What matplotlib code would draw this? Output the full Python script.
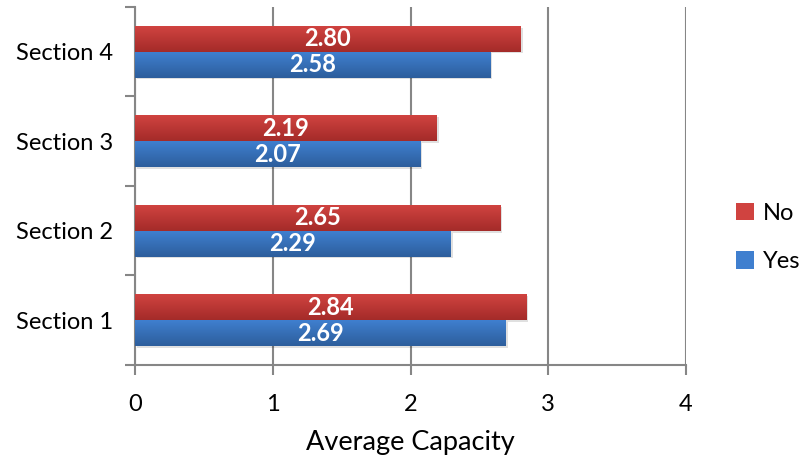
import matplotlib.pyplot as plt
import numpy as np
from matplotlib.colors import LinearSegmentedColormap

# Average capacity per section, split by answer
sections = ['Section 1', 'Section 2', 'Section 3', 'Section 4']
no_values = [2.84, 2.65, 2.19, 2.80]
yes_values = [2.69, 2.29, 2.07, 2.58]
x_ticks = [0, 1, 2, 3, 4]

plt.rcParams['font.family'] = ['Lato', 'DejaVu Sans']

fig = plt.figure(figsize=(7.99, 4.63), dpi=100)
ax = fig.add_axes([0.169, 0.2117, 0.6896, 0.7733])

bar_h = 0.29
y = np.arange(len(sections))
grid_color = '#868686'


def gradient_bars(ax, ys, values, top, bottom, label):
    """Draw bars with a vertical top-to-bottom shading and a soft shadow."""
    cmap = LinearSegmentedColormap.from_list(label, [bottom, top])
    grad = np.linspace(0, 1, 64).reshape(-1, 1)
    bars = ax.barh(ys, values, height=bar_h, color=top, label=label, zorder=3)
    for rect in bars:
        x0, y0 = rect.get_x(), rect.get_y()
        w, h = rect.get_width(), rect.get_height()
        # faint drop shadow
        ax.add_patch(plt.Rectangle((x0 + 0.015, y0 - 0.02), w, h, color='#000000',
                                   alpha=0.12, lw=0, zorder=2))
        im = ax.imshow(grad, extent=(x0, x0 + w, y0, y0 + h), origin='lower',
                       cmap=cmap, aspect='auto', zorder=3.5)
        im.set_clip_path(rect)
    return bars


no_bars = gradient_bars(ax, y + bar_h / 2, no_values, '#d04340', '#a42b29', 'No')
yes_bars = gradient_bars(ax, y - bar_h / 2, yes_values, '#3f7fcf', '#2d5e9c', 'Yes')

for bars, vals in ((no_bars, no_values), (yes_bars, yes_values)):
    for rect, v in zip(bars, vals):
        ax.text(v / 2, rect.get_y() + rect.get_height() / 2, f'{v:.2f}',
                ha='center', va='center', color='white', fontsize=17,
                fontweight='bold', zorder=5)

ax.set_xlim(0, 4)
ax.set_ylim(-0.5, len(sections) - 0.5)
ax.set_xticks(x_ticks)
ax.set_xticklabels([str(t) for t in x_ticks], fontsize=17)
ax.set_yticks(y)
ax.set_yticklabels(sections, fontsize=17)
ax.tick_params(axis='y', length=0, pad=16)
ax.set_yticks(np.arange(-0.5, len(sections)), minor=True)
ax.tick_params(axis='y', which='minor', length=7, color=grid_color, width=1.5)
ax.tick_params(axis='x', length=7, color=grid_color, width=1.5, pad=14)
ax.xaxis.grid(True, color=grid_color, linewidth=1.5, zorder=1)
ax.set_axisbelow(True)

for side in ('top', 'right'):
    ax.spines[side].set_visible(False)
for side in ('left', 'bottom'):
    ax.spines[side].set_color(grid_color)
    ax.spines[side].set_linewidth(1.5)

ax.set_xlabel('Average Capacity', fontsize=19.5, labelpad=11)

handles = [no_bars, yes_bars]
fig.legend(handles, ['No', 'Yes'], loc='center left', bbox_to_anchor=(0.921, 0.487),
           frameon=False, fontsize=17, handlelength=0.75, handleheight=0.75,
           labelspacing=1.15, handletextpad=0.4, borderaxespad=0, borderpad=0)

fig.savefig('out.png', dpi=100)
